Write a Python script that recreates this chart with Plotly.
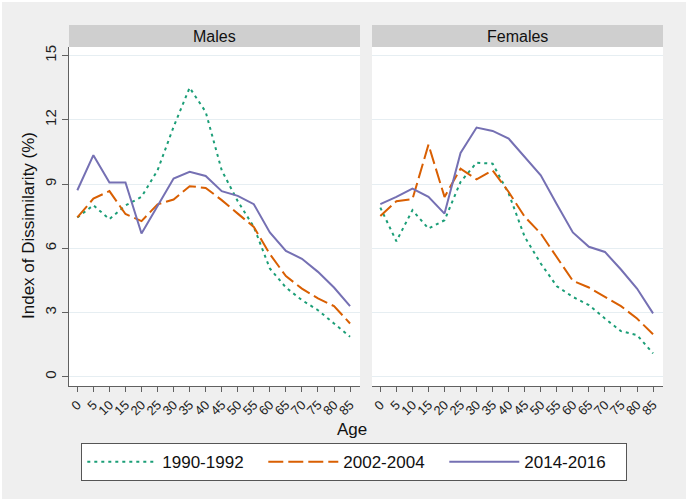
import plotly.graph_objects as go

ages = [0, 5, 10, 15, 20, 25, 30, 35, 40, 45, 50, 55, 60, 65, 70, 75, 80, 85]
age_labels = [str(a) for a in ages]
y_ticks = [0, 3, 6, 9, 12, 15]

series_names = ["1990-1992", "2002-2004", "2014-2016"]

males_1990 = [7.44, 8.01, 7.36, 8.0, 8.4, 9.64, 11.67, 13.5, 12.37, 9.64, 8.2, 7.0, 5.06, 4.17, 3.58, 3.11, 2.49, 1.87]
males_2002 = [7.44, 8.32, 8.67, 7.6, 7.27, 8.05, 8.28, 8.9, 8.82, 8.25, 7.62, 7.0, 5.73, 4.7, 4.12, 3.66, 3.3, 2.49]
males_2014 = [8.71, 10.35, 9.07, 9.07, 6.69, 8.0, 9.26, 9.57, 9.38, 8.67, 8.45, 8.06, 6.74, 5.88, 5.51, 4.9, 4.17, 3.3]

females_1990 = [7.9, 6.33, 7.78, 6.92, 7.31, 9.1, 10.0, 9.95, 8.56, 6.53, 5.29, 4.23, 3.73, 3.35, 2.72, 2.13, 1.95, 1.09]
females_2002 = [7.51, 8.2, 8.29, 10.84, 8.4, 9.72, 9.22, 9.64, 8.63, 7.47, 6.69, 5.6, 4.48, 4.17, 3.73, 3.3, 2.72, 1.99]
females_2014 = [8.06, 8.4, 8.79, 8.4, 7.62, 10.45, 11.64, 11.48, 11.12, 10.27, 9.41, 8.06, 6.74, 6.07, 5.83, 5.01, 4.12, 2.96]

colors = ["#1b9e77", "#d95f02", "#7570b3"]
dashes = ["3px,4px", "15px,5px", "solid"]

W, H = 688, 501
FONT = "Liberation Sans, Arial, sans-serif"

def px(x):
    return x / W

def py(y):
    return 1 - y / H

fig = go.Figure()

panels = [
    ("x", "y", [males_1990, males_2002, males_2014], True),
    ("x2", "y2", [females_1990, females_2002, females_2014], False),
]
for xa, ya, data, show_leg in panels:
    for name, vals, col, dsh in zip(series_names, data, colors, dashes):
        fig.add_trace(go.Scatter(
            x=ages, y=vals, mode="lines", name=name,
            line=dict(color=col, width=2, dash=dsh),
            xaxis=xa, yaxis=ya, showlegend=show_leg, hoverinfo="skip",
        ))

xr = [-2.6, 88.1]
yr = [-0.43, 15.4]
grid_col = "#e6eef2"
axis_col = "#606060"

common_x = dict(range=xr, tickmode="array", tickvals=ages, ticktext=age_labels,
                tickangle=-45, ticks="outside", ticklen=5, tickcolor=axis_col,
                showline=True, linecolor=axis_col, linewidth=1.3, showgrid=False,
                zeroline=False, automargin=False,
                tickfont=dict(family=FONT, size=13, color="#222"))

fig.update_layout(
    width=W, height=H,
    margin=dict(l=0, r=0, t=0, b=0, autoexpand=False),
    paper_bgcolor="#efefef",
    plot_bgcolor="white",
    xaxis=dict(domain=[px(69), px(360)], anchor="y", **common_x),
    xaxis2=dict(domain=[px(372), px(663)], anchor="y2", **common_x),
    yaxis=dict(domain=[py(386), py(47)], anchor="x", range=yr, tickmode="array",
               tickvals=y_ticks, ticktext=[str(v) for v in y_ticks], tickangle=-90,
               ticks="outside", ticklen=6, tickcolor=axis_col, showline=True,
               linecolor=axis_col, linewidth=1.3, showgrid=True, gridcolor=grid_col,
               gridwidth=1.2, zeroline=False, automargin=False,
               tickfont=dict(family=FONT, size=15, color="#222")),
    yaxis2=dict(domain=[py(386), py(47)], anchor="x2", range=yr, tickmode="array",
                tickvals=y_ticks, showticklabels=False, ticks="", showline=False,
                showgrid=True, gridcolor=grid_col, gridwidth=1.2, zeroline=False,
                automargin=False),
    legend=dict(orientation="h", x=px(81), y=py(443), xanchor="left", yanchor="top",
                bgcolor="white", bordercolor="#555", borderwidth=1.3,
                font=dict(family=FONT, size=17, color="#111"),
                itemwidth=70, entrywidth=96, tracegroupgap=0),
    shapes=[
        dict(type="rect", xref="paper", yref="paper", x0=px(69), x1=px(360),
             y0=py(47), y1=py(25), fillcolor="#cfcfcf", line=dict(width=0), layer="above"),
        dict(type="rect", xref="paper", yref="paper", x0=px(372), x1=px(663),
             y0=py(47), y1=py(25), fillcolor="#cfcfcf", line=dict(width=0), layer="above"),
        dict(type="rect", xref="paper", yref="paper", x0=0, x1=1, y0=0, y1=1,
             fillcolor="rgba(0,0,0,0)", line=dict(color="white", width=4), layer="above"),
    ],
    annotations=[
        dict(text="Males", xref="paper", yref="paper", x=px(214.5), y=py(36),
             xanchor="center", yanchor="middle",
             showarrow=False, font=dict(family=FONT, size=16, color="#111")),
        dict(text="Females", xref="paper", yref="paper", x=px(517.5), y=py(36),
             xanchor="center", yanchor="middle",
             showarrow=False, font=dict(family=FONT, size=16, color="#111")),
        dict(text="Index of Dissimilarity (%)", xref="paper", yref="paper",
             x=px(29), y=py(226), textangle=-90, xanchor="center", yanchor="middle",
             showarrow=False, font=dict(family=FONT, size=17, color="#111")),
        dict(text="Age", xref="paper", yref="paper", x=px(352), y=py(429),
             xanchor="center", yanchor="middle",
             showarrow=False, font=dict(family=FONT, size=17, color="#111")),
    ],
)

fig.write_html(
    "out.html",
    config={"displayModeBar": False},
    post_script="document.body.style.margin='0';document.body.style.padding='0';"
                "document.documentElement.style.overflow='hidden';",
)
